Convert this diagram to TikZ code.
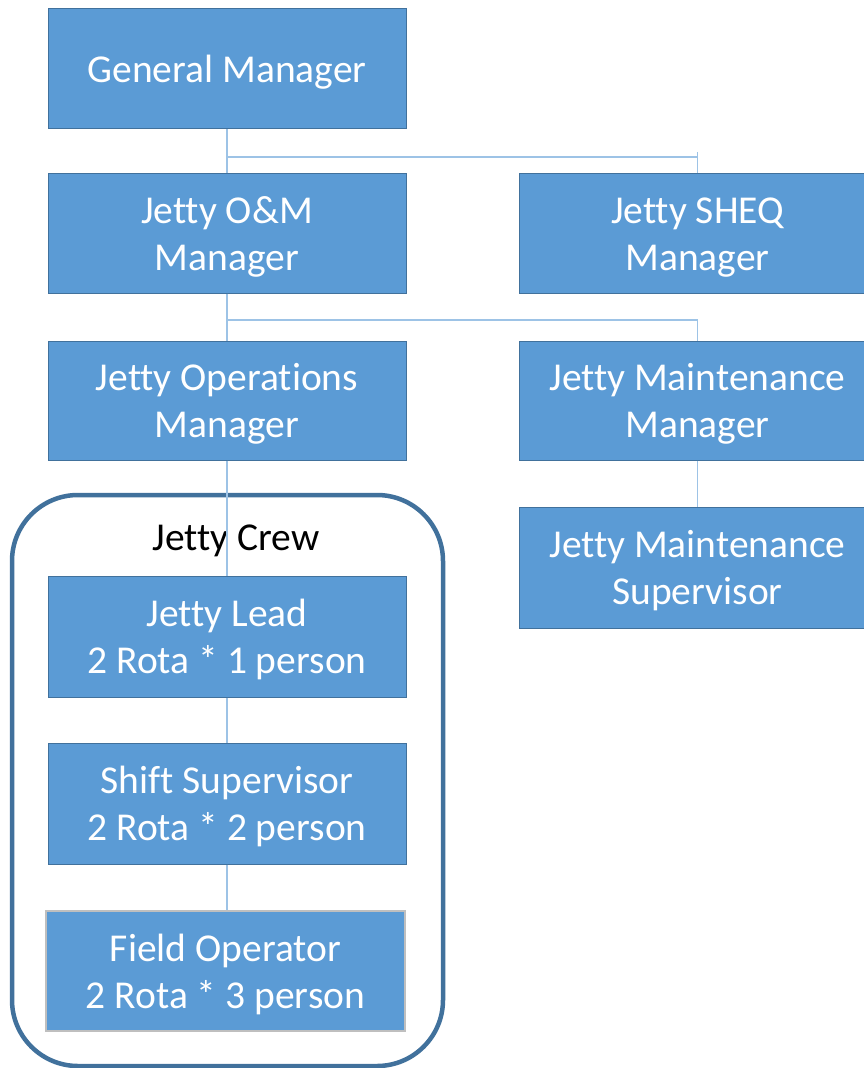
\documentclass[tikz,border=0pt]{standalone}
\usepackage{fontspec}
\setmainfont{Carlito}[Ligatures={NoCommon}]
\definecolor{boxfill}{HTML}{5B9BD5}
\definecolor{boxline}{HTML}{41719C}
\definecolor{connline}{HTML}{9DC3E6}
\definecolor{crewline}{HTML}{41719C}
\definecolor{grayline}{HTML}{BFBFBF}
\newcommand\topstrut{\rule{0pt}{34pt}}
\tikzset{
  orgbox/.style={draw=boxline, line width=1pt, fill=boxfill, text=white,
    minimum width=358pt, minimum height=120pt, inner sep=0pt,
    align=center, font=\fontsize{39.5}{47}\selectfont},
  conn/.style={draw=connline, line width=1.6pt},
  crewbox/.style={draw=crewline, line width=4.5pt, rounded corners=66pt},
}
\begin{document}
\begin{tikzpicture}[x=1pt,y=-1pt]
\useasboundingbox (0,0) rectangle (864,1068);
\clip (0,0) rectangle (864,1068);
% crew container
\draw[crewbox] (12,495) rectangle (443,1066);
\node[font=\fontsize{39.5}{47}\selectfont, text=black, inner sep=0pt, anchor=base] (crew) at (236,550) {Jetty Crew};
% boxes
\node[orgbox] (gm) at (227,68.5) {\topstrut General Manager};
\node[orgbox] (om) at (227,233) {\topstrut Jetty O\&M\\Manager};
\node[orgbox, minimum width=357pt] (sheq) at (697.5,233) {\topstrut Jetty SHEQ\\Manager};
\node[orgbox, minimum height=119pt] (ops) at (227,400.5) {\topstrut Jetty Operations\\Manager};
\node[orgbox, minimum width=357pt, minimum height=119pt] (mm) at (697.5,400.5) {\topstrut Jetty Maintenance\\Manager};
\node[orgbox, minimum width=357pt, minimum height=121pt] (ms) at (697.5,567.5) {\topstrut Jetty Maintenance\\Supervisor};
\node[orgbox, minimum height=121pt] (lead) at (227,636.5) {\topstrut Jetty Lead\\2 Rota * 1 person};
\node[orgbox, minimum height=121pt] (shift) at (227,803.5) {\topstrut Shift Supervisor\\2 Rota * 2 person};
\node[orgbox, draw=grayline, line width=2pt, minimum width=359pt] (field) at (225.5,971) {\topstrut Field Operator\\2 Rota * 3 person};
% connectors
\coordinate (bus1) at (228,157);
\coordinate (bus2) at (228,320);
\draw[conn] (gm.south) -- (om.north);
\draw[conn] (bus1) -| (sheq.north);
\draw[conn] (sheq.north) -- ++(0,-21);
\draw[conn] (om.south) -- (ops.north);
\draw[conn] (bus2) -| (mm.north);
\draw[conn] (mm.south) -- (ms.north);
\draw[conn] (ops.south) -- (lead.north);
\draw[conn] (lead.south) -- (shift.north);
\draw[conn] (shift.south) -- (shift.south |- field.north);
\end{tikzpicture}
\end{document}
